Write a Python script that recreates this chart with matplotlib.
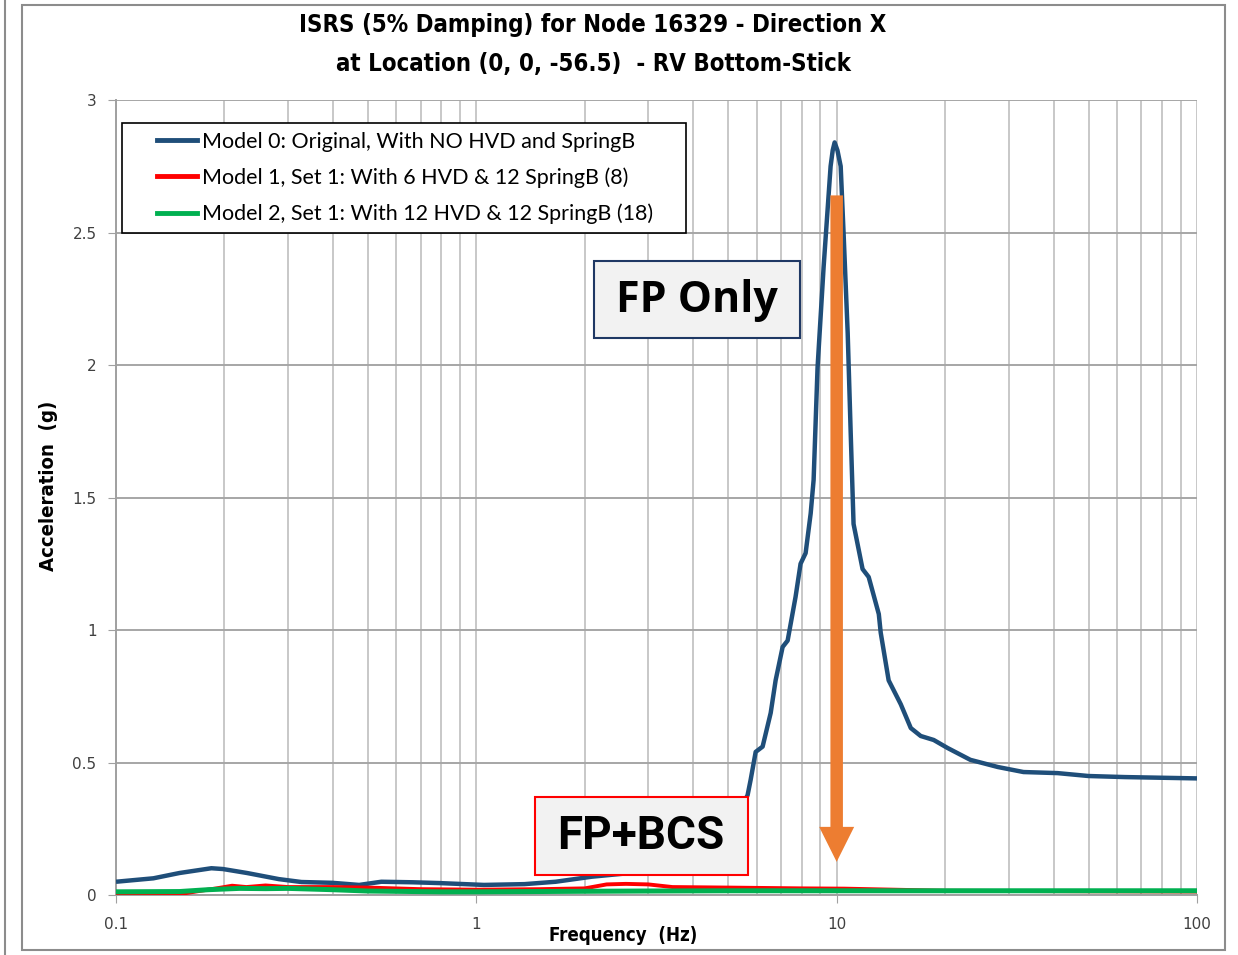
import numpy as np
import matplotlib.pyplot as plt
from matplotlib import font_manager
from matplotlib.patches import Rectangle
from matplotlib.lines import Line2D
from matplotlib.legend_handler import HandlerBase

# ISRS curves (frequency in Hz, acceleration in g)
blue_f = [0.1, 0.127, 0.15, 0.184, 0.198, 0.231, 0.283, 0.327, 0.398, 0.473, 0.545, 0.666, 0.789,
          1.05, 1.36, 1.66, 2.09, 2.63, 3.3, 4.0, 4.7, 5.2, 5.66, 5.77, 5.96, 6.23, 6.56, 6.77, 7.08,
          7.31, 7.69, 7.94, 8.2, 8.47, 8.63, 8.85, 9.2, 9.62, 9.75, 9.87, 10.05, 10.26, 10.45, 10.73,
          10.94, 11.14, 11.8, 12.27, 13.09, 13.25, 13.94, 15.06, 16.06, 17.11, 18.59, 20.3, 23.5, 28,
          33, 41, 50, 63, 100]
blue_v = [0.050, 0.063, 0.083, 0.101, 0.098, 0.083, 0.060, 0.049, 0.046, 0.038, 0.050, 0.048, 0.045,
          0.038, 0.041, 0.050, 0.069, 0.082, 0.11, 0.15, 0.21, 0.28, 0.377, 0.434, 0.54, 0.56, 0.687,
          0.81, 0.936, 0.96, 1.125, 1.25, 1.29, 1.44, 1.566, 1.99, 2.37, 2.75, 2.81, 2.84, 2.81, 2.75,
          2.5, 2.12, 1.74, 1.40, 1.23, 1.20, 1.06, 0.99, 0.81, 0.72, 0.63, 0.60, 0.585, 0.555, 0.51,
          0.483, 0.464, 0.46, 0.449, 0.445, 0.44]

red_f = [0.1, 0.15, 0.17, 0.19, 0.21, 0.23, 0.26, 0.3, 0.4, 0.5, 0.7, 1.0, 1.5, 2.0, 2.3, 2.6, 3.0,
         3.5, 5, 8, 10.5, 20, 50, 100]
red_v = [0.002, 0.003, 0.015, 0.025, 0.035, 0.03, 0.036, 0.03, 0.03, 0.028, 0.022, 0.02, 0.022,
         0.025, 0.04, 0.042, 0.04, 0.03, 0.028, 0.025, 0.024, 0.016, 0.014, 0.013]

green_f = [0.1, 0.15, 0.18, 0.22, 0.26, 0.3, 0.4, 0.5, 0.8, 1, 2, 3, 5, 10, 100]
green_v = [0.012, 0.013, 0.02, 0.025, 0.024, 0.025, 0.02, 0.015, 0.012, 0.012, 0.014, 0.015, 0.016,
           0.016, 0.016]

labels = ["Model 0: Original, With NO HVD and SpringB",
          "Model 1, Set 1: With 6 HVD & 12 SpringB (8)",
          "Model 2, Set 1: With 12 HVD & 12 SpringB (18)"]
colors = ["#1f4e79", "#ff0000", "#00b050"]

# a narrow bold face for the title, like the original
names = {f.name for f in font_manager.fontManager.ttflist}
cond = [f for f in font_manager.fontManager.ttflist
        if f.name == 'DejaVu Sans' and 'ondensed' in str(f.stretch)]
if 'Liberation Sans Narrow' in names:
    tfont = dict(family='Liberation Sans Narrow', size=20.5)
elif cond:
    tfont = dict(family='DejaVu Sans', stretch='condensed', size=17.2)
else:
    tfont = dict(family='Liberation Sans', size=16.5)


class ShortLine(HandlerBase):
    # legend line drawn only in the right part of the handle box
    def create_artists(self, legend, orig_handle, xdescent, ydescent, width, height, fontsize, trans):
        y = height / 2 - ydescent
        ln = Line2D([-xdescent + width * 0.4, -xdescent + width], [y, y],
                    color=orig_handle.get_color(), lw=orig_handle.get_linewidth(), transform=trans)
        return [ln]


W, H = 1238, 955
fig = plt.figure(figsize=(W / 100, H / 100), dpi=100)
ax = fig.add_axes([116 / W, 1 - 895 / H, (1197 - 116) / W, (895 - 100) / H])

ax.plot(blue_f, blue_v, color=colors[0], lw=3.2, solid_capstyle='butt', zorder=3)
ax.plot(red_f, red_v, color=colors[1], lw=2.8, solid_capstyle='butt', zorder=3)
ax.plot(green_f, green_v, color=colors[2], lw=3.6, solid_capstyle='butt', zorder=4)

ax.set_xscale('log')
ax.set_xlim(0.1, 100)
ax.set_ylim(0, 3)
ax.set_xticks([0.1, 1, 10, 100])
ax.set_xticklabels(['0.1', '1', '10', '100'])
ax.set_yticks([0, 0.5, 1, 1.5, 2, 2.5, 3])
ax.set_yticklabels(['0', '0.5', '1', '1.5', '2', '2.5', '3'])
ax.tick_params(axis='x', which='minor', length=0)
ax.tick_params(axis='both', which='major', length=6, color='#a0a0a0', labelsize=11,
               labelcolor='#404040', direction='out')
ax.tick_params(axis='x', pad=10)
ax.tick_params(axis='y', pad=8)

ax.grid(True, which='major', axis='y', color='#a6a6a6', lw=1.4)
ax.grid(True, which='both', axis='x', color='#c8c8c8', lw=1.4)
ax.set_axisbelow(True)
for s in ['top', 'right']:
    ax.spines[s].set_visible(False)
for s in ['left', 'bottom']:
    ax.spines[s].set_color('#a0a0a0')
    ax.spines[s].set_linewidth(1.4)

ax.set_xlabel('Frequency  (Hz)', fontweight='bold', fontdict=dict(tfont, size=tfont['size'] * 0.78))
ax.xaxis.set_label_coords((623 - 116) / (1197 - 116), -0.039)
ax.set_ylabel('Acceleration  (g)', fontweight='bold', fontdict=dict(tfont, size=tfont['size'] * 0.85))
ax.yaxis.set_label_coords(-(116 - 58) / (1197 - 116), (895 - 486) / (895 - 100))

fig.text(593 / W, 1 - 25 / H, 'ISRS (5% Damping) for Node 16329 - Direction X', ha='center',
         va='center', fontweight='bold', fontdict=tfont)
fig.text(593 / W, 1 - 64 / H, 'at Location (0, 0, -56.5)  - RV Bottom-Stick', ha='center',
         va='center', fontweight='bold', fontdict=tfont)

handles = [Line2D([], [], color=c, lw=3.5) for c in colors]
leg = ax.legend(handles, labels, loc='upper left',
                bbox_to_anchor=(6 / 1081, 1 - 23 / 795, 564 / 1081, 0.0), mode='expand',
                handler_map={Line2D: ShortLine()},
                prop={'family': 'Lato', 'size': 15.5}, frameon=True, fancybox=False,
                edgecolor='black', framealpha=1, handlelength=3.1, handletextpad=0.2,
                borderpad=0.4, labelspacing=0.73, borderaxespad=0)
leg.get_frame().set_linewidth(1.2)

# annotation boxes
fig.patches.append(Rectangle((594 / W, 1 - 338 / H), 206 / W, 77 / H, transform=fig.transFigure,
                             fc='#f2f2f2', ec='#1f3864', lw=1.5, zorder=6))
fig.text(697 / W, 1 - 300 / H, 'FP Only', ha='center', va='center', fontsize=31,
         fontweight='bold', family='Open Sans', zorder=7)
fig.patches.append(Rectangle((535 / W, 1 - 875 / H), 213 / W, 78 / H, transform=fig.transFigure,
                             fc='#f2f2f2', ec='#ff0000', lw=1.5, zorder=6))
fig.text(641 / W, 1 - 836 / H, 'FP+BCS', ha='center', va='center', fontsize=33,
         fontweight='bold', family='Roboto', zorder=7)

ax.annotate('', xy=(10, 0.125), xytext=(10, 2.64),
            arrowprops=dict(arrowstyle='simple,head_length=1.26,head_width=1.26,tail_width=0.45',
                            mutation_scale=20, fc='#ed7d31', ec='none', shrinkA=0, shrinkB=0),
            zorder=7)

# outer chart border
fig.patches.append(Rectangle((22 / W, 5 / H), (1225 - 22) / W, (950 - 5) / H,
                             transform=fig.transFigure, fill=False, ec='#8c8c8c', lw=1.5))
fig.add_artist(Line2D([5 / W, 5 / W], [0, 1], transform=fig.transFigure, color='#8c8c8c', lw=1.5))

fig.savefig('out.png', dpi=100)
